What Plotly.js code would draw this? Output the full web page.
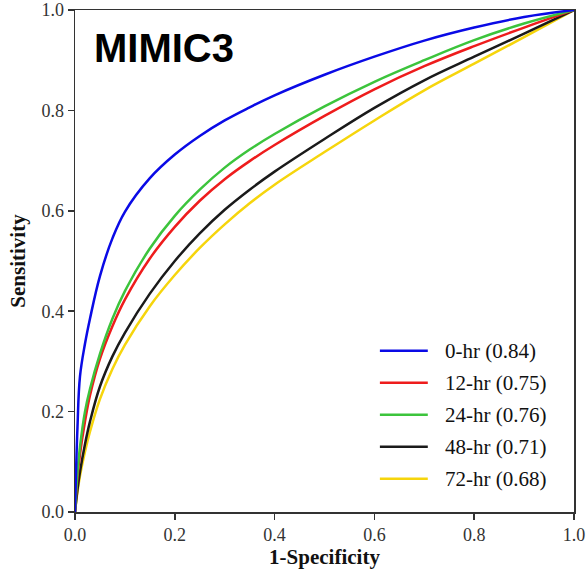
<!DOCTYPE html>
<html>
<head>
<meta charset="utf-8">
<script src="https://cdn.plot.ly/plotly-3.0.1.min.js"></script>
<style>html,body{margin:0;padding:0;background:#fff;}#chart{width:587px;height:571px;}</style>
</head>
<body>
<div id="chart"></div>
<script>
// False positive rate grid (1-Specificity)
const fpr = [0, 0.005, 0.01, 0.02, 0.03, 0.05, 0.075, 0.1, 0.15, 0.2, 0.25, 0.3, 0.35, 0.4, 0.5, 0.6, 0.7, 0.8, 0.9, 1.0];
// Sensitivity values
const tpr0  = [0, 0.17, 0.27, 0.335, 0.385, 0.47, 0.545, 0.598, 0.665, 0.712, 0.749, 0.78, 0.806, 0.83, 0.871, 0.907, 0.939, 0.965, 0.986, 1.0];
const tpr12 = [0, 0.07, 0.115, 0.18, 0.232, 0.305, 0.37, 0.423, 0.505, 0.568, 0.62, 0.663, 0.699, 0.731, 0.789, 0.842, 0.888, 0.928, 0.965, 1.0];
const tpr24 = [0, 0.08, 0.13, 0.20, 0.245, 0.315, 0.385, 0.44, 0.525, 0.59, 0.642, 0.686, 0.722, 0.753, 0.808, 0.857, 0.90, 0.94, 0.973, 1.0];
const tpr48 = [0, 0.045, 0.08, 0.135, 0.18, 0.25, 0.31, 0.357, 0.435, 0.50, 0.555, 0.602, 0.642, 0.678, 0.743, 0.805, 0.86, 0.907, 0.953, 1.0];
const tpr72 = [0, 0.04, 0.072, 0.12, 0.16, 0.225, 0.285, 0.333, 0.41, 0.472, 0.526, 0.573, 0.615, 0.652, 0.717, 0.78, 0.84, 0.893, 0.946, 1.0];

const seriesNames = ['0-hr', '12-hr', '24-hr', '48-hr', '72-hr'];
const aucs = [0.84, 0.75, 0.76, 0.71, 0.68];
const seriesValues = [tpr0, tpr12, tpr24, tpr48, tpr72];
const colors = ['#0a0ae6', '#ee1c1c', '#3cc43c', '#1a1a1a', '#f6d50c'];
const tickVals = [0, 0.2, 0.4, 0.6, 0.8, 1.0];
const tickText = ['0.0', '0.2', '0.4', '0.6', '0.8', '1.0'];

const serif = 'Liberation Serif, Times New Roman, serif';

// draw order: yellow, black, red, green, blue on top
const order = [4, 3, 1, 2, 0];
const traces = order.map(i => ({
  x: fpr, y: seriesValues[i], type: 'scatter', mode: 'lines',
  name: seriesNames[i] + ' (' + aucs[i].toFixed(2) + ')',
  line: {color: colors[i], width: 2.5, shape: 'spline', smoothing: 1.1},
  showlegend: false, hoverinfo: 'skip'
}));

// custom legend (line segments + text) in paper coordinates
const legTop = 0.321, legStep = 0.0637;
const shapes = [];
const annotations = [];
seriesNames.forEach((n, i) => {
  const yy = legTop - i * legStep;
  shapes.push({type: 'line', xref: 'paper', yref: 'paper', x0: 0.611, x1: 0.707, y0: yy, y1: yy,
    line: {color: colors[i], width: 2.5}});
  annotations.push({xref: 'paper', yref: 'paper', x: 0.738, y: yy, xanchor: 'left', yanchor: 'middle',
    text: n + ' (' + aucs[i].toFixed(2) + ')', showarrow: false,
    font: {family: serif, size: 21, color: '#111'}});
});
annotations.push({xref: 'paper', yref: 'paper', x: 0.035, y: 0.924, xanchor: 'left', yanchor: 'middle',
  text: 'MIMIC3', showarrow: false,
  font: {family: 'Liberation Sans, Arial, sans-serif', size: 40, weight: 700, color: '#000'}});

const axisCommon = {
  range: [0, 1], tickvals: tickVals, ticktext: tickText,
  ticks: 'outside', ticklen: 6, tickwidth: 1.5, tickcolor: '#333',
  showline: true, linecolor: '#333', linewidth: 1.5, mirror: true,
  showgrid: false, zeroline: false, fixedrange: true,
  tickfont: {family: serif, size: 18, color: '#333'}
};

const layout = {
  width: 587, height: 571,
  margin: {l: 75, r: 13, t: 10, b: 59},
  paper_bgcolor: '#fff', plot_bgcolor: '#fff',
  xaxis: Object.assign({}, axisCommon, {
    title: {text: '1-Specificity', font: {family: serif, size: 21, weight: 700, color: '#111'}, standoff: 5}
  }),
  yaxis: Object.assign({}, axisCommon, {
    title: {text: 'Sensitivity', font: {family: serif, size: 21, weight: 700, color: '#111'}, standoff: 10}
  }),
  shapes: shapes,
  annotations: annotations,
  showlegend: false
};

Plotly.newPlot('chart', traces, layout, {displayModeBar: false, staticPlot: true});
</script>
</body>
</html>
